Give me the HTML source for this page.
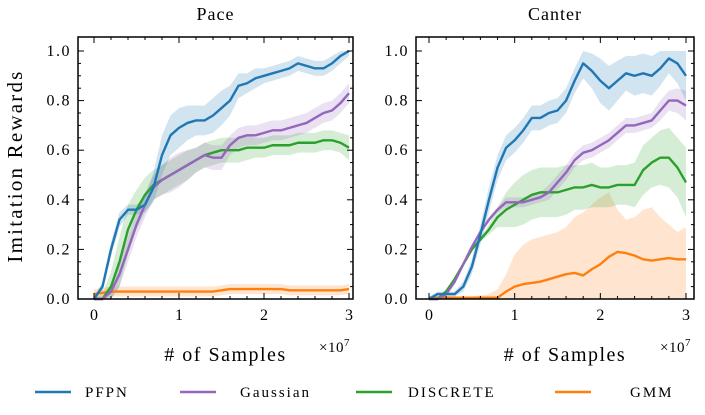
<!DOCTYPE html>
<html><head><meta charset="utf-8"><style>
body{margin:0;background:#fff;width:705px;height:410px;overflow:hidden}
svg{font-family:"Liberation Serif",serif}
</style></head><body>
<svg id="c" width="705" height="410"></svg>
<script>
const xs=[0,0.1,0.2,0.3,0.4,0.5,0.6,0.7,0.8,0.9,1.0,1.1,1.2,1.3,1.4,1.5,1.6,1.7,1.8,1.9,2.0,2.1,2.2,2.3,2.4,2.5,2.6,2.7,2.8,2.9,3.0];
const seriesNames=["PFPN","Gaussian","DISCRETE","GMM"];
const colors=["#1f77b4","#9467bd","#2ca02c","#ff7f0e"];
const panelTitles=["Pace","Canter"];
const xTicks=[0,1,2,3];
const yTicks=[0,0.2,0.4,0.6,0.8,1.0];
const pacePFPN=[0,0.05,0.2,0.32,0.36,0.36,0.38,0.45,0.58,0.66,0.69,0.71,0.72,0.72,0.74,0.77,0.80,0.86,0.87,0.89,0.90,0.91,0.92,0.93,0.95,0.94,0.93,0.93,0.95,0.98,1.0];
const pacePFPNsd=[0.01,0.02,0.03,0.03,0.02,0.02,0.03,0.06,0.08,0.08,0.08,0.07,0.06,0.06,0.07,0.07,0.06,0.05,0.04,0.04,0.03,0.03,0.03,0.03,0.03,0.03,0.03,0.03,0.03,0.03,0.02];
const paceGauss=[0,0,0.03,0.1,0.2,0.3,0.38,0.45,0.48,0.5,0.52,0.54,0.56,0.58,0.57,0.57,0.62,0.65,0.66,0.66,0.67,0.68,0.68,0.69,0.7,0.71,0.73,0.75,0.76,0.79,0.83];
const paceGaussSd=[0.01,0.01,0.03,0.05,0.05,0.05,0.05,0.05,0.06,0.07,0.07,0.06,0.05,0.05,0.05,0.05,0.04,0.04,0.04,0.04,0.04,0.04,0.04,0.04,0.04,0.04,0.04,0.04,0.04,0.04,0.04];
const paceDisc=[0,0,0.05,0.15,0.28,0.36,0.42,0.46,0.48,0.5,0.52,0.54,0.56,0.58,0.59,0.6,0.6,0.6,0.61,0.61,0.61,0.62,0.62,0.62,0.63,0.63,0.63,0.64,0.64,0.63,0.61];
const paceDiscSd=[0.01,0.02,0.06,0.1,0.1,0.08,0.07,0.06,0.06,0.06,0.06,0.06,0.05,0.05,0.05,0.05,0.05,0.05,0.05,0.04,0.04,0.04,0.04,0.04,0.04,0.04,0.04,0.04,0.04,0.04,0.05];
const paceGMM=[0.02,0.025,0.03,0.03,0.03,0.03,0.03,0.03,0.03,0.03,0.03,0.03,0.03,0.03,0.03,0.035,0.04,0.04,0.04,0.04,0.04,0.04,0.04,0.035,0.035,0.035,0.035,0.035,0.035,0.035,0.04];
const paceGMMsd=[0.02,0.02,0.02,0.02,0.02,0.02,0.02,0.02,0.02,0.02,0.02,0.02,0.02,0.02,0.02,0.02,0.02,0.02,0.02,0.02,0.02,0.02,0.02,0.02,0.02,0.02,0.02,0.02,0.02,0.02,0.02];
const canPFPN=[0,0.02,0.02,0.02,0.05,0.13,0.26,0.4,0.53,0.61,0.64,0.68,0.73,0.73,0.75,0.76,0.8,0.88,0.95,0.92,0.88,0.85,0.88,0.91,0.9,0.91,0.9,0.93,0.97,0.95,0.9];
const canPFPNsd=[0.01,0.01,0.01,0.01,0.02,0.03,0.04,0.05,0.05,0.05,0.05,0.05,0.05,0.05,0.05,0.05,0.05,0.05,0.06,0.07,0.09,0.09,0.08,0.07,0.08,0.08,0.08,0.07,0.06,0.08,0.1];
const canGauss=[0,0,0.02,0.07,0.14,0.21,0.27,0.32,0.36,0.39,0.39,0.39,0.4,0.41,0.43,0.47,0.51,0.56,0.59,0.6,0.62,0.64,0.67,0.7,0.7,0.71,0.72,0.76,0.8,0.8,0.78];
const canGaussSd=[0.01,0.01,0.01,0.01,0.01,0.01,0.01,0.01,0.01,0.02,0.02,0.02,0.02,0.02,0.03,0.03,0.03,0.03,0.03,0.03,0.03,0.03,0.03,0.03,0.03,0.03,0.03,0.04,0.04,0.05,0.06];
const canDisc=[0,0,0.03,0.08,0.14,0.2,0.24,0.28,0.33,0.36,0.38,0.4,0.42,0.43,0.43,0.43,0.44,0.45,0.45,0.46,0.45,0.45,0.46,0.46,0.46,0.52,0.55,0.57,0.57,0.53,0.47];
const canDiscSd=[0.01,0.01,0.01,0.01,0.01,0.01,0.01,0.02,0.04,0.07,0.09,0.1,0.1,0.1,0.1,0.1,0.1,0.09,0.09,0.09,0.08,0.08,0.08,0.08,0.09,0.1,0.1,0.11,0.12,0.12,0.14];
const canGMM=[0.005,0.005,0.005,0.005,0.005,0.005,0.005,0.005,0.005,0.03,0.05,0.06,0.065,0.07,0.08,0.09,0.1,0.105,0.095,0.12,0.14,0.17,0.19,0.185,0.175,0.16,0.155,0.16,0.165,0.16,0.16];
const canGMMhi=[0.005,0.005,0.005,0.005,0.005,0.01,0.015,0.02,0.04,0.1,0.18,0.22,0.24,0.25,0.26,0.27,0.29,0.33,0.35,0.38,0.41,0.43,0.36,0.32,0.33,0.36,0.37,0.33,0.3,0.27,0.29];
const panels=[
 {x0:94,x1:349,fl:78,fr:353,ser:[[pacePFPN,pacePFPNsd],[paceGauss,paceGaussSd],[paceDisc,paceDiscSd],[paceGMM,paceGMMsd]]},
 {x0:429,x1:686,fl:416,fr:694,ser:[[canPFPN,canPFPNsd],[canGauss,canGaussSd],[canDisc,canDiscSd],[canGMM,null,canGMMhi]]}
];
const svg=document.getElementById('c');const NS='http://www.w3.org/2000/svg';
function mk(t,a,p){const e=document.createElementNS(NS,t);for(const k in a)e.setAttribute(k,a[k]);(p||svg).appendChild(e);return e;}
const yT=37,yB=299;
function Y(v){return 299-v*248;}
const drawOrder=[3,2,1,0];
panels.forEach((P,pi)=>{
 const X=v=>P.x0+v*(P.x1-P.x0)/3;
 const g=mk('g',{});
 
 
 drawOrder.forEach(si=>{
  const [m,sd,hi]=P.ser[si];
  let up=xs.map((x,i)=>X(x)+','+Y(hi?hi[i]:Math.min(1,m[i]+sd[i])));
  let dn=xs.map((x,i)=>X(x)+','+Y(hi?0:Math.max(0,m[i]-sd[i]))).reverse();
  const b=mk('polygon',{points:up.concat(dn).join(' '),fill:colors[si],'fill-opacity':0.2,stroke:'none'},g);
  
  
 });
 drawOrder.forEach(si=>{
  const m=P.ser[si][0];
  const l=mk('polyline',{points:xs.map((x,i)=>X(x)+','+Y(m[i])).join(' '),fill:'none',stroke:colors[si],'stroke-width':2.4,'stroke-linejoin':'round'},g);
  
  
 });
 mk('rect',{x:P.fl,y:yT,width:P.fr-P.fl,height:yB-yT,fill:'none',stroke:'#000','stroke-width':1.5},g);
 for(let v=0;v<=3.001;v+=0.2){const x=X(v),maj=Math.abs(v-Math.round(v))<1e-6,L=maj?6:3;
  mk('line',{x1:x,x2:x,y1:yB,y2:yB-L,stroke:'#000'},g);mk('line',{x1:x,x2:x,y1:yT,y2:yT+L,stroke:'#000'},g);}
 xTicks.forEach(v=>{const t=mk('text',{x:X(v),y:yB+21,'text-anchor':'middle','font-size':16},g);t.textContent=v;
  });
 for(let v=0;v<=1.0001;v+=0.05){const y=Y(v),maj=Math.abs(v*5-Math.round(v*5))<1e-6,L=maj?6:3;
  mk('line',{x1:P.fl,x2:P.fl+L,y1:y,y2:y,stroke:'#000'},g);mk('line',{x1:P.fr,x2:P.fr-L,y1:y,y2:y,stroke:'#000'},g);}
 yTicks.forEach(v=>{const t=mk('text',{x:P.fl-7,y:Y(v)+5,'text-anchor':'end','font-size':16,'letter-spacing':'1.5'},g);t.textContent=v.toFixed(1);
  });
 const tt=mk('text',{x:(P.fl+P.fr)/2,y:20,'text-anchor':'middle','font-size':18,'letter-spacing':'1'},g);tt.textContent=panelTitles[pi];
 
 const xl=mk('text',{x:(P.fl+P.fr)/2+10,y:361,'text-anchor':'middle','font-size':20,'letter-spacing':'1.5'},g);xl.textContent='# of Samples';
 
 const ex=mk('text',{x:P.fr-34,y:352,'font-size':15,'letter-spacing':'0.5'},g);ex.innerHTML='×10<tspan dy="-6" font-size="11">7</tspan>';
 
});
const yl=mk('text',{x:0,y:0,transform:'translate(22,166) rotate(-90)','text-anchor':'middle','font-size':21,'letter-spacing':'2.2'});
yl.textContent='Imitation Rewards';


const legX=[[35,85],[180,240],[356,408],[555,630]];
seriesNames.forEach((n,i)=>{
 const g=mk('g',{});
 
 
 mk('line',{x1:legX[i][0],x2:legX[i][0]+36,y1:392,y2:392,stroke:colors[i],'stroke-width':2.4},g);
 const t=mk('text',{x:legX[i][1],y:397,'font-size':15,'letter-spacing':'2'},g);t.textContent=n;
});
</script>
</body></html>
